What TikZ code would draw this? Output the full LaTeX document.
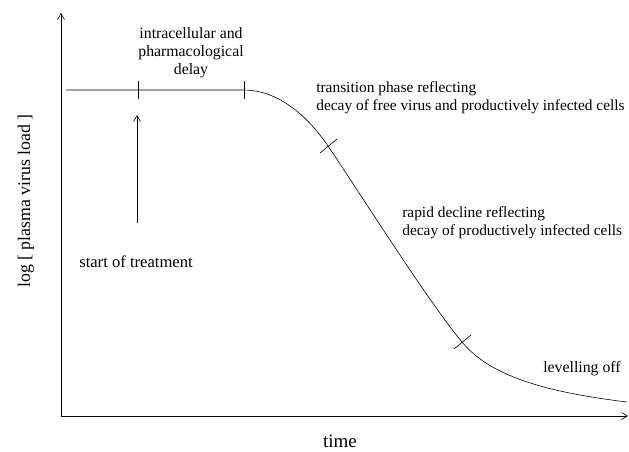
\documentclass[tikz,border=0pt]{standalone}
\usepackage{fontspec}
\setmainfont{Liberation Serif}
\usetikzlibrary{arrows.meta}

\begin{document}
\begin{tikzpicture}[x=1pt,y=-1pt,line width=0.6pt,
	>={Straight Barb[length=6pt,width=7pt]},
	lbl/.style={font=\fontsize{15.8}{18}\selectfont,inner sep=0pt},
	phase/.style={lbl,font=\fontsize{15.4}{18}\selectfont,align=left,anchor=base west},
	axlbl/.style={font=\fontsize{19}{22}\selectfont,inner sep=0pt},
	tick/.style={line width=1pt}]
	
	\useasboundingbox (0,0) rectangle (629,451);
	
	%------------------------------
	% Axes
	%------------------------------
	\coordinate (O) at (61,416);
	\coordinate (Xtip) at (628,416);
	\coordinate (Ytip) at (61,13);
	\draw[->] (O) -- (Xtip);
	\draw[->] (O) -- (Ytip);
	
	\node[axlbl,anchor=base] (tlabel) at (340,447) {time};
	\node[axlbl,font=\fontsize{17.8}{22}\selectfont,anchor=base,rotate=90]
	(vlabel) at (30,201) {log [ plasma virus load ]};
	
	%------------------------------
	% Virus load curve
	%------------------------------
	\coordinate (L0) at (66,90);
	\coordinate (D1) at (138,90);
	\coordinate (D2) at (244,90);
	\coordinate (T1) at (328,146);
	\coordinate (T2) at (462,342);
	\coordinate (Cend) at (627,402);
	
	\draw (L0) -- (D2)
	.. controls (275,90) and (305,112) .. (T1)
	.. controls (358,190) and (427,300) .. (T2)
	.. controls (490,376) and (545,392) .. (Cend);
	
	% Delay marks
	\draw[tick] ([shift={(0,-9)}]D1) -- ([shift={(0,9)}]D1);
	\draw[tick] ([shift={(0,-9)}]D2) -- ([shift={(0,9)}]D2);
	
	% Phase marks on the decline
	\draw ([shift={(-8,7)}]T1) -- ([shift={(9,-7)}]T1);
	\draw ([shift={(-8,7)}]T2) -- ([shift={(9,-7)}]T2);
	
	% Start of treatment
	\coordinate (A0) at (137,223);
	\coordinate (A1) at (137,115);
	\draw[->] (A0) -- (A1);
	
	%------------------------------
	% Labels (base = last line)
	%------------------------------
	\node[lbl,align=center,anchor=base] (delay) at (191,74)
	{intracellular and\\pharmacological\\delay};
	\node[phase] (trans) at (316,110)
	{transition phase reflecting\\decay of free virus and productively infected cells};
	\node[phase] (rapid) at (402,235)
	{rapid decline reflecting\\decay of productively infected cells};
	\node[lbl,font=\fontsize{16.6}{18}\selectfont,anchor=base west] (start) at (79,267)
	{start of treatment};
	\node[lbl,anchor=base west] (level) at (543,372) {levelling off};
	
\end{tikzpicture}
\end{document}
